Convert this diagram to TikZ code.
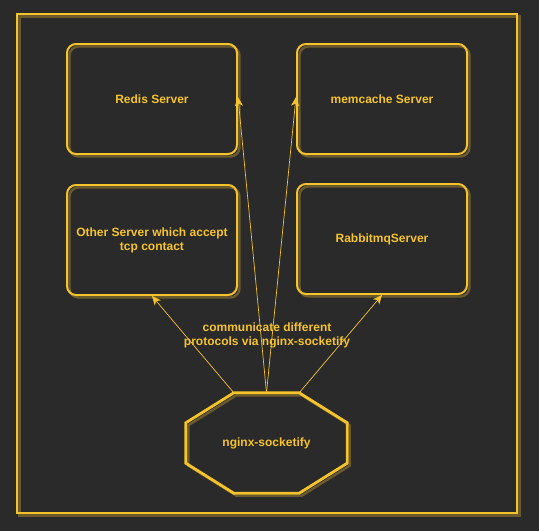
\documentclass[tikz,border=0pt]{standalone}
\usepackage{fontspec}
\setmainfont{Liberation Sans}
\usetikzlibrary{positioning,calc,arrows.meta}
\definecolor{bgc}{HTML}{2A2A2A}
\definecolor{ylw}{HTML}{F5C32C}
\definecolor{ylwdim}{HTML}{6B5A2E}

\begin{document}
\begin{tikzpicture}[x=1pt,y=-1pt]
\tikzstyle{shadowed} = [preaction={draw=ylwdim, line width=2.4pt, transform canvas={shift={(2.5pt,-2.5pt)}}}];
\tikzstyle{lbl} = [text=ylw, font=\bfseries\fontsize{12}{14}\selectfont, align=center, inner sep=0pt];
\tikzstyle{srv} = [lbl, shadowed, draw=ylw, line width=2pt, rounded corners=9pt, minimum width=170pt, minimum height=110pt];
\tikzstyle{octa} = [lbl, minimum width=161pt, minimum height=100pt];
\tikzstyle{link} = [draw=ylw, line width=0.7pt, -{Stealth[length=9pt, width=8pt, inset=2.5pt]}];

\fill[bgc] (0, 0) rectangle (539, 531);
\useasboundingbox (0, 0) rectangle (539, 531);

\draw[shadowed, draw=ylw, line width=2.6pt] (17, 14) rectangle (517, 513);

\node[srv] (redis) at (152, 99) {Redis Server};
\node[srv] (memc) at (382, 99) {memcache Server};
\node[srv] (other) at (152, 240) {Other Server which accept\\tcp contact};
\node[srv] (rabbit) at (382, 239) {RabbitmqServer};

% octagon round the text node
\node[octa] (sock) at (266.5, 443) {nginx-socketify};
\coordinate (socktl) at ($(sock.north west)+(48, 0)$);
\coordinate (socktr) at ($(sock.north east)+(-48, 0)$);
\draw[shadowed, draw=ylw, line width=2.8pt, line join=miter]
  (socktl) -- (socktr) -- ($(sock.north east)+(0, 30)$) -- ($(sock.south east)+(0, -30)$)
  -- ($(sock.south east)+(-48, 0)$) -- ($(sock.south west)+(48, 0)$)
  -- ($(sock.south west)+(0, -30)$) -- ($(sock.north west)+(0, 30)$) -- cycle;

\node[lbl] (proto) at (267, 335) {communicate different\\protocols via nginx-socketify};

\draw[link] (socktl) -- (other.south);
\draw[link] (socktr) -- (rabbit.south);
\draw[link] (sock.north) -- ([yshift=2pt]redis.east);
\draw[link] (sock.north) -- ([yshift=2pt]memc.west);
\end{tikzpicture}
\end{document}
